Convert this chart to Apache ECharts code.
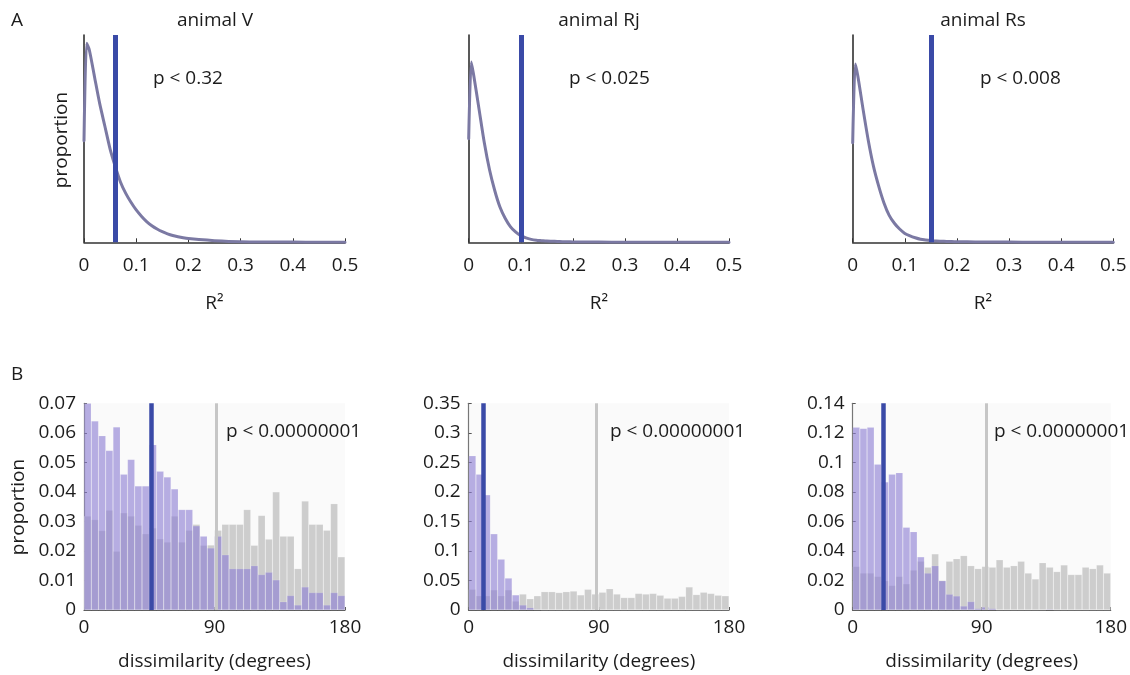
<!DOCTYPE html>
<html>
<head>
<meta charset="utf-8">
<script src="https://cdn.jsdelivr.net/npm/echarts@6/dist/echarts.min.js"></script>
<style>
html,body{margin:0;padding:0;background:#ffffff;}
#chart{width:1130px;height:675px;}
</style>
</head>
<body>
<div id="chart"></div>
<script>
// ---------- Panel A: R^2 null distributions ----------
const animalNames = ['animal V', 'animal Rj', 'animal Rs'];
const r2PValues = ['p < 0.32', 'p < 0.025', 'p < 0.008'];
const r2Ticks = [0, 0.1, 0.2, 0.3, 0.4, 0.5];
const r2X       = [0,    0.005, 0.01, 0.02, 0.03, 0.04, 0.05, 0.06,  0.07,  0.08,  0.09,  0.10,  0.11,  0.12,  0.13,  0.14,  0.15,  0.16,  0.17,  0.18,  0.19,  0.20,  0.22,  0.25,  0.30,  0.35,   0.40,   0.45,   0.50];
const r2CurveV  = [0.49, 0.96,  0.93, 0.80, 0.67, 0.56, 0.45, 0.365, 0.29,  0.236, 0.193, 0.156, 0.126, 0.100, 0.080, 0.064, 0.051, 0.041, 0.033, 0.027, 0.022, 0.018, 0.013, 0.008, 0.003, 0.0015, 0.001,  0.0007, 0.0005];
const r2CurveRj = [0.50, 0.87,  0.80, 0.64, 0.48, 0.35, 0.25, 0.17,  0.116, 0.076, 0.050, 0.032, 0.021, 0.014, 0.010, 0.008, 0.006, 0.005, 0.004, 0.003, 0.0025,0.002, 0.0015,0.001, 0.0005,0.0003, 0.0002, 0.0001, 0.0001];
const r2CurveRs = [0.48, 0.86,  0.80, 0.64, 0.49, 0.365,0.27, 0.19,  0.13,  0.092, 0.064, 0.043, 0.031, 0.022, 0.015, 0.011, 0.008, 0.006, 0.005, 0.004, 0.0035,0.003, 0.0022,0.0015,0.001, 0.0006, 0.0004, 0.0002, 0.0001];
const r2Observed = [0.060, 0.098, 0.149];

// ---------- Panel B: dissimilarity histograms ----------
const binStarts = [0,5,10,15,20,25,30,35,40,45,50,55,60,65,70,75,80,85,90,95,100,105,110,115,120,125,130,135,140,145,150,155,160,165,170,175];
const dissimTicks = [0, 90, 180];
const dissimPValues = ['p < 0.00000001', 'p < 0.00000001', 'p < 0.00000001'];
const yMaxB = [0.07, 0.35, 0.14];
const yStepB = [0.01, 0.05, 0.02];
const observedV  = [0.070,0.064,0.059,0.054,0.062,0.046,0.051,0.042,0.042,0.056,0.047,0.045,0.041,0.034,0.034,0.0285,0.025,0.021,0.025,0.0187,0.014,0.014,0.014,0.015,0.012,0.0128,0.0102,0.0028,0.0049,0.0017,0.0078,0.0059,0.0059,0.0017,0.0059,0.0049];
const shuffledV  = [0.0318,0.0306,0.0269,0.0338,0.0199,0.0329,0.0318,0.0287,0.0258,0.0278,0.0241,0.023,0.0318,0.023,0.027,0.029,0.0219,0.022,0.027,0.029,0.029,0.029,0.034,0.0219,0.032,0.024,0.040,0.025,0.025,0.014,0.0369,0.029,0.029,0.027,0.036,0.018];
const observedRj = [0.261,0.230,0.195,0.129,0.086,0.054,0.0255,0.0085,0.004,0.001,0,0,0,0,0,0,0,0,0,0,0,0,0,0,0,0,0,0,0,0,0,0,0,0,0,0];
const shuffledRj = [0.035,0.024,0.024,0.034,0.024,0.034,0.015,0.027,0.019,0.024,0.031,0.031,0.0295,0.031,0.032,0.0255,0.035,0.027,0.030,0.036,0.027,0.021,0.021,0.028,0.027,0.028,0.025,0.020,0.020,0.023,0.039,0.026,0.030,0.028,0.025,0.024];
const observedRs = [0.1237,0.123,0.1237,0.0987,0.0867,0.092,0.093,0.056,0.053,0.036,0.025,0.030,0.0198,0.0107,0.0095,0.0027,0.0057,0.001,0.002,0.001,0,0,0,0,0,0,0,0.0005,0,0,0,0,0,0,0,0];
const shuffledRs = [0.0295,0.025,0.025,0.0227,0.0198,0.0166,0.0227,0.0177,0.027,0.033,0.029,0.038,0.020,0.033,0.0347,0.0368,0.030,0.028,0.0295,0.029,0.034,0.029,0.030,0.033,0.025,0.021,0.032,0.029,0.026,0.0305,0.024,0.024,0.029,0.028,0.0305,0.025];
const dissimObserved = [46.7, 10.4, 21.2];
const dissimShuffledMean = [91.5, 88, 93];

const r2Curves = [r2CurveV, r2CurveRj, r2CurveRs];
const obsHists = [observedV, observedRj, observedRs];
const shufHists = [shuffledV, shuffledRj, shuffledRs];

// ---------- layout / style ----------
const FONT = '"Open Sans", "Noto Sans", sans-serif';
const TXT = '#1c1c1c';
const BLUE = '#3a4aa7';
const colLeft = [84, 468.7, 852.7];
const colWidth = [261, 260.3, 260.6];

const grids = [], xAxes = [], yAxes = [], series = [], graphics = [];

for (let i = 0; i < 3; i++) {
  grids.push({left: colLeft[i], width: colWidth[i], top: 35, height: 207.3, containLabel: false});
  xAxes.push({
    type: 'value', gridIndex: i, min: 0, max: 0.5, interval: 0.1,
    name: 'R²', nameLocation: 'middle', nameGap: 52,
    nameTextStyle: {fontFamily: FONT, fontSize: 19, color: TXT},
    axisLine: {show: true, lineStyle: {color: '#333', width: 1.5}},
    axisTick: {show: true, inside: true, length: 4, lineStyle: {color: '#333'}},
    axisLabel: {fontFamily: FONT, fontSize: 19, color: TXT, margin: 14,
      formatter: v => String(v)},
    splitLine: {show: false}
  });
  yAxes.push({
    type: 'value', gridIndex: i, min: 0, max: 1,
    axisLine: {show: true, onZero: false, lineStyle: {color: '#222', width: 1.5}},
    axisTick: {show: false}, axisLabel: {show: false}, splitLine: {show: false}
  });
  series.push({
    type: 'line', xAxisIndex: i, yAxisIndex: i,
    data: r2X.map((x, k) => [x, r2Curves[i][k]]),
    smooth: 0.25, showSymbol: false, symbol: 'none',
    lineStyle: {color: '#7b79a3', width: 3, cap: 'round', join: 'round'},
    z: 3,
    markLine: {
      silent: true, symbol: ['none', 'none'], label: {show: false},
      lineStyle: {color: BLUE, width: 5, type: 'solid'},
      data: [{xAxis: r2Observed[i]}], z: 5
    }
  });
}

for (let j = 0; j < 3; j++) {
  const g = 3 + j;
  grids.push({left: colLeft[j], width: colWidth[j], top: 403.3, height: 206.7,
    show: true, backgroundColor: '#fafafa', borderWidth: 0});
  const catIdx = xAxes.length;
  xAxes.push({
    type: 'category', gridIndex: g, data: binStarts, show: false, boundaryGap: true
  });
  const valIdx = xAxes.length;
  xAxes.push({
    type: 'value', gridIndex: g, min: 0, max: 180, interval: 90, position: 'bottom',
    name: 'dissimilarity (degrees)', nameLocation: 'middle', nameGap: 42,
    nameTextStyle: {fontFamily: FONT, fontSize: 19, color: TXT},
    axisLine: {show: true, lineStyle: {color: '#555', width: 1.2}},
    axisTick: {show: true, inside: true, length: 3, lineStyle: {color: '#555'}},
    axisLabel: {fontFamily: FONT, fontSize: 19, color: TXT, margin: 8},
    splitLine: {show: false}
  });
  yAxes.push({
    type: 'value', gridIndex: g, min: 0, max: yMaxB[j], interval: yStepB[j],
    axisLine: {show: true, onZero: false, lineStyle: {color: '#777', width: 1.2}},
    axisTick: {show: true, inside: true, length: 3, lineStyle: {color: '#555'}},
    axisLabel: {fontFamily: FONT, fontSize: 19, color: TXT, margin: 8},
    splitLine: {show: false}
  });
  series.push({
    type: 'bar', xAxisIndex: catIdx, yAxisIndex: g, data: shufHists[j],
    barGap: '-100%', barCategoryGap: '0%',
    itemStyle: {color: '#cdcdcd', borderColor: 'rgba(255,255,255,0.3)', borderWidth: 0.5},
    z: 2
  });
  series.push({
    type: 'bar', xAxisIndex: catIdx, yAxisIndex: g, data: obsHists[j],
    barGap: '-100%', barCategoryGap: '0%',
    itemStyle: {color: 'rgba(140,126,212,0.62)', borderColor: 'rgba(255,255,255,0.25)', borderWidth: 0.5},
    z: 3
  });
  series.push({
    type: 'line', xAxisIndex: valIdx, yAxisIndex: g, data: [],
    showSymbol: false, z: 6,
    markLine: {
      silent: true, symbol: ['none', 'none'], label: {show: false},
      data: [
        {xAxis: dissimShuffledMean[j], lineStyle: {color: '#c6c6c6', width: 3, type: 'solid'}},
        {xAxis: dissimObserved[j], lineStyle: {color: BLUE, width: 4.5, type: 'solid'}}
      ]
    }
  });
}

function txt(text, x, y, opts) {
  opts = opts || {};
  graphics.push({
    type: 'text', x: x, y: y, rotation: opts.rotation || 0, z: 100,
    style: {text: text, font: (opts.size || 19) + 'px ' + FONT, fill: TXT,
      align: opts.align || 'left', verticalAlign: 'middle'}
  });
}
txt('A', 11, 21);
txt('B', 11, 375);
const titleX = [215, 599, 983];
const pTopX = [153, 569, 980];
const pBotX = [226, 610, 994];
for (let i = 0; i < 3; i++) {
  txt(animalNames[i], titleX[i], 21, {align: 'center'});
  txt(r2PValues[i], pTopX[i], 79);
  txt(dissimPValues[i], pBotX[i], 432);
}
txt('proportion', 62, 140, {align: 'center', rotation: Math.PI / 2});
txt('proportion', 19, 507, {align: 'center', rotation: Math.PI / 2});

const chart = echarts.init(document.getElementById('chart'), null, {renderer: 'canvas'});
chart.setOption({
  animation: false,
  backgroundColor: '#ffffff',
  grid: grids, xAxis: xAxes, yAxis: yAxes, series: series, graphic: graphics
});
</script>
</body>
</html>
